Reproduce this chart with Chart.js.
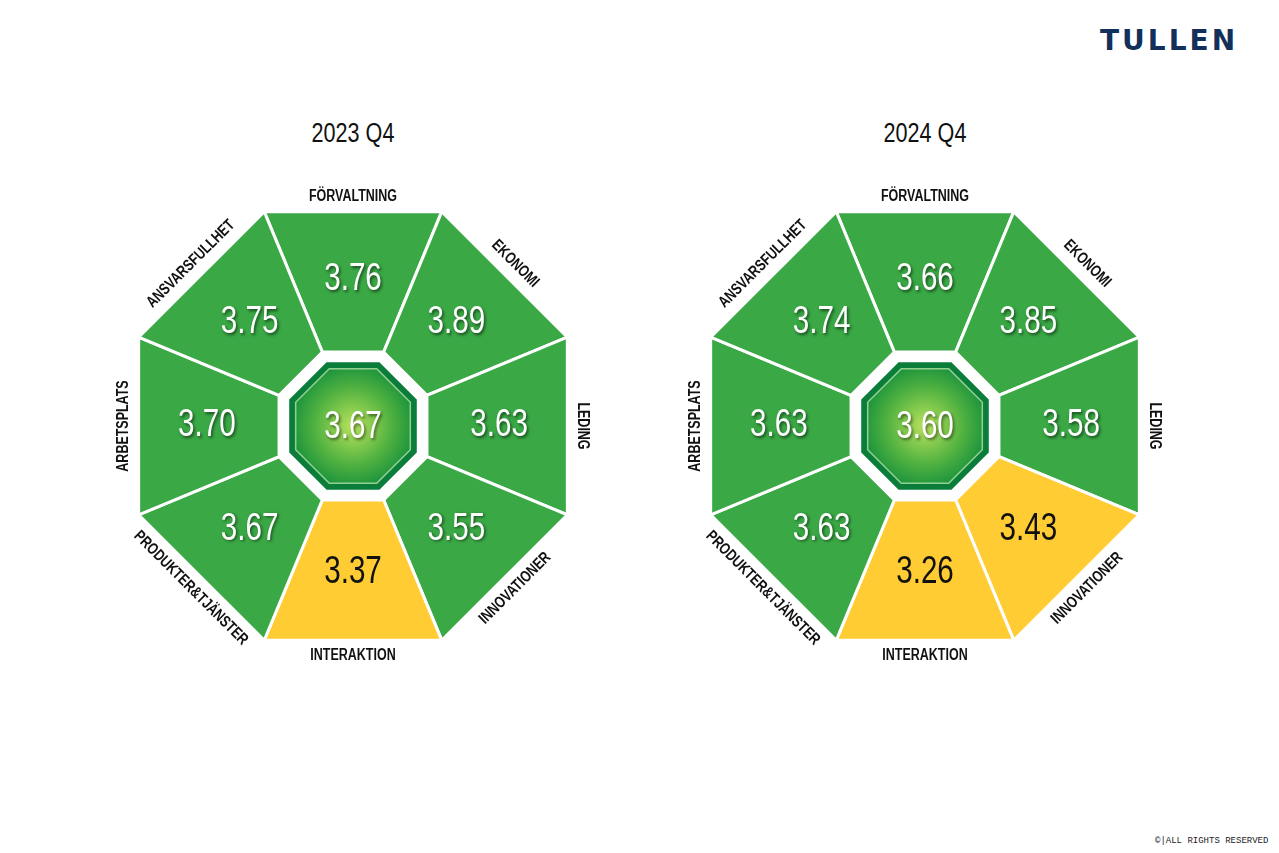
<!DOCTYPE html>
<html>
<head>
<meta charset="utf-8">
<script src="https://cdn.jsdelivr.net/npm/chart.js@4"></script>
<style>
  html,body{margin:0;padding:0;background:#fff;}
  body{width:1279px;height:853px;position:relative;overflow:hidden;font-family:'Liberation Sans',sans-serif;}
  .title{position:absolute;top:118px;width:300px;text-align:center;font-size:27px;color:#111;transform:scaleX(0.8);}
  .logo{position:absolute;top:24px;left:1100px;font-family:'DejaVu Sans',sans-serif;font-weight:bold;font-size:28px;letter-spacing:3px;color:#12305a;}
  .foot{position:absolute;top:836px;left:1155px;font-family:'Liberation Mono',monospace;font-size:9px;color:#222;white-space:nowrap;}
  canvas{position:absolute;}
</style>
</head>
<body>
<div class="logo">TULLEN</div>
<div class="title" style="left:203px">2023 Q4</div>
<div class="title" style="left:775px">2024 Q4</div>
<canvas id="c1" width="560" height="560" style="left:73px;top:146px"></canvas>
<canvas id="c2" width="560" height="560" style="left:645px;top:146px"></canvas>
<div class="foot">&copy;|ALL RIGHTS RESERVED</div>
<script>
// clockwise from the top edge
const categories = ['FÖRVALTNING','EKONOMI','LEDING','INNOVATIONER','INTERAKTION','PRODUKTER&TJÄNSTER','ARBETSPLATS','ANSVARSFULLHET'];
const values2023 = [3.76, 3.89, 3.63, 3.55, 3.37, 3.67, 3.70, 3.75];
const values2024 = [3.66, 3.85, 3.58, 3.43, 3.26, 3.63, 3.63, 3.74];
const center2023 = 3.67;
const center2024 = 3.60;
const threshold = 3.5;

const GREEN = '#3aa845', YELLOW = '#ffcc33';
const SQUEEZE = 0.78; // fake a condensed face

// draw each arc as an octagon slice (trapezoid) using the arc geometry
const octagonPlugin = {
  id: 'octagon',
  afterDatasetsDraw(chart, args, opts) {
    const ctx = chart.ctx;
    const meta = chart.getDatasetMeta(0);
    const vals = chart.data.datasets[0].data;
    let cx, cy, rIn;
    meta.data.forEach((arc, i) => {
      const p = arc.getProps(['x','y','startAngle','endAngle','innerRadius','outerRadius'], true);
      cx = p.x; cy = p.y; rIn = p.innerRadius;
      const pt = (a, r) => [p.x + Math.cos(a) * r, p.y + Math.sin(a) * r];
      const pts = [pt(p.startAngle, p.outerRadius), pt(p.endAngle, p.outerRadius), pt(p.endAngle, p.innerRadius), pt(p.startAngle, p.innerRadius)];
      ctx.save();
      ctx.beginPath();
      pts.forEach((q, k) => k ? ctx.lineTo(q[0], q[1]) : ctx.moveTo(q[0], q[1]));
      ctx.closePath();
      ctx.fillStyle = vals[i] < threshold ? YELLOW : GREEN;
      ctx.fill();
      ctx.lineWidth = 3; ctx.strokeStyle = '#fff'; ctx.stroke();
      ctx.restore();

      const mid = (p.startAngle + p.endAngle) / 2;
      const apo = p.outerRadius * Math.cos(Math.PI / 8);
      const apoIn = p.innerRadius * Math.cos(Math.PI / 8);
      // value
      const vr = (apo + apoIn) / 2 + 2;
      ctx.save();
      ctx.translate(p.x + Math.cos(mid) * vr, p.y + Math.sin(mid) * vr);
      ctx.scale(SQUEEZE, 1);
      ctx.font = '38px "Liberation Sans", sans-serif';
      ctx.textAlign = 'center'; ctx.textBaseline = 'middle';
      if (vals[i] < threshold) {
        ctx.fillStyle = '#111';
      } else {
        ctx.fillStyle = '#fff';
        ctx.shadowColor = 'rgba(0,0,0,0.55)'; ctx.shadowBlur = 3; ctx.shadowOffsetX = 1.5; ctx.shadowOffsetY = 1.5;
      }
      ctx.fillText(vals[i].toFixed(2), 0, 0);
      ctx.restore();
      // category label
      const lr = apo + 15;
      let rot = mid + Math.PI / 2;
      const deg = ((rot * 180 / Math.PI) % 360 + 360) % 360;
      if (deg > 91 && deg < 269) rot += Math.PI;
      ctx.save();
      ctx.translate(p.x + Math.cos(mid) * lr, p.y + Math.sin(mid) * lr);
      ctx.rotate(rot);
      ctx.scale(SQUEEZE, 1);
      ctx.font = 'bold 16px "Liberation Sans", sans-serif';
      ctx.fillStyle = '#111'; ctx.textAlign = 'center'; ctx.textBaseline = 'middle';
      ctx.fillText(chart.data.labels[i], 0, 0);
      ctx.restore();
    });

    // centre octagon
    const oct = (r) => {
      ctx.beginPath();
      for (let k = 0; k < 8; k++) {
        const a = -Math.PI / 2 - Math.PI / 8 + k * Math.PI / 4;
        const x = cx + Math.cos(a) * r, y = cy + Math.sin(a) * r;
        k ? ctx.lineTo(x, y) : ctx.moveTo(x, y);
      }
      ctx.closePath();
    };
    const R = rIn - 11;
    ctx.save();
    oct(R);
    ctx.fillStyle = '#0b7d3b'; ctx.fill();
    oct(R - 7);
    const g = ctx.createRadialGradient(cx, cy, 2, cx, cy, R);
    g.addColorStop(0, '#b4e05a'); g.addColorStop(0.55, '#4fb140'); g.addColorStop(1, '#0c8a3c');
    ctx.fillStyle = g; ctx.fill();
    ctx.lineWidth = 1.5; ctx.strokeStyle = 'rgba(200,240,180,0.7)'; ctx.stroke();
    ctx.translate(cx, cy + 2);
    ctx.scale(SQUEEZE, 1);
    ctx.font = '38px "Liberation Sans", sans-serif';
    ctx.textAlign = 'center'; ctx.textBaseline = 'middle';
    ctx.fillStyle = '#fff';
    ctx.shadowColor = 'rgba(0,0,0,0.5)'; ctx.shadowBlur = 3; ctx.shadowOffsetX = 1.5; ctx.shadowOffsetY = 1.5;
    ctx.fillText(opts.center.toFixed(2), 0, 0);
    ctx.restore();
  }
};

// every sector spans 45°, as in the original figure; values are shown on them
const equalSlices = {
  id: 'equalSlices',
  afterDatasetUpdate(chart) {
    const meta = chart.getDatasetMeta(0);
    const start = -Math.PI / 2 - Math.PI / 8;
    meta.data.forEach((arc, i) => {
      arc.startAngle = start + i * Math.PI / 4;
      arc.endAngle = start + (i + 1) * Math.PI / 4;
    });
  }
};

function build(id, vals, center) {
  new Chart(document.getElementById(id), {
    type: 'doughnut',
    data: { labels: categories, datasets: [{ data: vals, backgroundColor: 'transparent', borderWidth: 0 }] },
    options: {
      responsive: false, animation: false, rotation: -22.5, cutout: '34.5%',
      layout: { padding: 48 },
      plugins: { legend: { display: false }, tooltip: { enabled: false }, octagon: { center } }
    },
    plugins: [octagonPlugin, equalSlices]
  });
}
build('c1', values2023, center2023);
build('c2', values2024, center2024);
</script>
</body>
</html>
